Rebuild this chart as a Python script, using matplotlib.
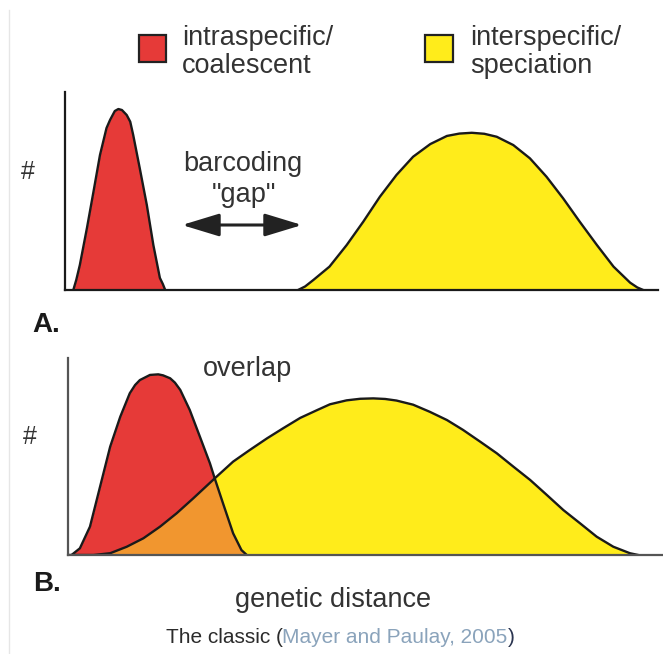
import matplotlib
matplotlib.use("Agg")
import matplotlib.pyplot as plt
from matplotlib.patches import Rectangle, FancyArrowPatch
from matplotlib.lines import Line2D

plt.rcParams['font.family'] = ['Liberation Sans', 'DejaVu Sans']

# ---------------- data ----------------
# Panel A: genetic distance (0-100 across axis), count (0-100 up axis)
intra_a_x = [1.4, 1.9, 2.5, 3.7, 4.8, 5.9, 7.0, 7.6, 8.4, 9.0, 9.6, 10.4, 11.0, 11.5, 12.6,
             13.8, 14.9, 16.0, 16.5, 16.9]
intra_a_y = [0, 5.1, 12.6, 31.3, 49.6, 68.2, 81.8, 85.9, 90.4, 91.4, 90.9, 88.4, 85.0, 78.3, 61.6,
             42.9, 22.7, 6.1, 3.0, 0]

inter_a_x = [39.3, 40.5, 41.9, 44.6, 47.5, 50.3, 53.1, 55.9, 58.7, 61.6, 64.4, 66.5, 68.6, 70.7,
             72.8, 75.6, 78.4, 81.2, 84.0, 86.8, 89.7, 92.5, 95.3, 96.5, 97.5]
inter_a_y = [0, 1.8, 5.1, 11.8, 22.7, 34.5, 47.1, 58.1, 67.3, 73.7, 77.8, 79.0, 79.4, 78.9,
             77.4, 73.2, 66.5, 57.2, 46.3, 34.5, 22.7, 11.8, 3.7, 1.3, 0]

# Panel B
intra_b_x = [0.6, 2.0, 3.7, 5.4, 7.1, 8.8, 10.4, 11.3, 12.1, 13.8, 15.2, 16.0, 17.2, 18.0, 18.9,
             20.5, 22.2, 23.9, 24.7, 26.1, 27.8, 29.2, 30.1]
intra_b_y = [0, 3.4, 14.4, 34.7, 55.0, 70.2, 82.1, 86.3, 88.8, 91.4, 91.7, 91.2, 89.7, 87.5, 83.8,
             73.6, 60.1, 46.5, 38.9, 26.2, 11.0, 2.5, 0]

inter_b_x = [0, 4.3, 7.1, 9.9, 12.7, 15.5, 18.3, 21.1, 24.7, 27.8, 30.6, 33.5, 36.2, 39.1,
             41.9, 44.1, 46.9, 49.2, 51.4, 53.4, 55.3, 58.1, 60.9, 63.8, 66.5, 69.4, 72.2,
             75.0, 77.8, 80.6, 83.4, 86.2, 89.0, 91.8, 94.6, 96.0]
inter_b_y = [0, 0, 0.9, 4.2, 8.5, 14.4, 21.2, 28.8, 38.9, 47.4, 53.3, 59.2, 64.3, 69.6,
             73.5, 76.5, 78.5, 79.3, 79.5, 79.2, 78.4, 76.3, 72.7, 68.5, 63.5, 57.5, 51.6,
             44.8, 38.1, 30.5, 22.8, 16.1, 9.3, 4.2, 0.9, 0]

legend_labels = ["intraspecific/", "coalescent", "interspecific/", "speciation"]
panel_labels = ["A.", "B."]
y_label = "#"
x_label = "genetic distance"
gap_label = ["barcoding", "\"gap\""]
overlap_label = "overlap"
caption_parts = ["The classic (", "Mayer and Paulay, 2005", ")"]

RED = "#e63a38"
YELLOW = "#ffec1b"
ORANGE = "#f1962f"
EDGE = "#1a1a1a"
TXT = "#333333"

W, H = 663, 654
fig = plt.figure(figsize=(W / 100, H / 100), dpi=100)
fig.patch.set_facecolor("white")


def fx(px):
    return px / W


def fy(py):
    return 1 - py / H


def make_axes(left, right, top, bottom, spine_color):
    ax = fig.add_axes([fx(left), fy(bottom), (right - left) / W, (bottom - top) / H])
    ax.set_xlim(0, 100)
    ax.set_ylim(0, 100)
    for s in ["top", "right"]:
        ax.spines[s].set_visible(False)
    for s in ["left", "bottom"]:
        ax.spines[s].set_color(spine_color)
        ax.spines[s].set_linewidth(1.6)
        ax.spines[s].set_zorder(6)
    ax.set_xticks([])
    ax.set_yticks([])
    ax.patch.set_alpha(0)
    return ax


LW = 1.7

# ---------------- panel A ----------------
axA = make_axes(65, 658, 92, 290, "#1a1a1a")
axA.fill_between(intra_a_x, intra_a_y, 0, color=RED, lw=0, zorder=2)
axA.fill_between(inter_a_x, inter_a_y, 0, color=YELLOW, lw=0, zorder=2)
axA.plot(intra_a_x, intra_a_y, color=EDGE, lw=LW, zorder=4, solid_joinstyle='round')
axA.plot(inter_a_x, inter_a_y, color=EDGE, lw=LW, zorder=4, solid_joinstyle='round')

# ---------------- panel B ----------------
axB = make_axes(68, 662, 358, 555, "#555555")
yb = axB.fill_between(inter_b_x, inter_b_y, 0, color=YELLOW, lw=0, zorder=2)
axB.fill_between(intra_b_x, intra_b_y, 0, color=RED, lw=0, zorder=2.5)
ov = axB.fill_between(intra_b_x, intra_b_y, 0, color=ORANGE, lw=0, zorder=3)
ov.set_clip_path(yb.get_paths()[0], axB.transData)
axB.plot(inter_b_x, inter_b_y, color=EDGE, lw=LW, zorder=4, solid_joinstyle='round')
axB.plot(intra_b_x, intra_b_y, color=EDGE, lw=LW, zorder=4, solid_joinstyle='round')

# ---------------- legend ----------------
for (l, r), col in [((139, 166), RED), ((425, 453), YELLOW)]:
    fig.add_artist(Rectangle((fx(l), fy(62)), (r - l) / W, 27 / H, transform=fig.transFigure,
                             facecolor=col, edgecolor="#222222", lw=1.6))
fs = 19.5
fig.text(fx(182), fy(45), legend_labels[0], fontsize=fs, color=TXT, va="baseline")
fig.text(fx(182), fy(73), legend_labels[1], fontsize=fs, color=TXT, va="baseline")
fig.text(fx(470), fy(45), legend_labels[2], fontsize=fs, color=TXT, va="baseline")
fig.text(fx(470), fy(73), legend_labels[3], fontsize=fs, color=TXT, va="baseline")

# ---------------- annotations ----------------
fig.text(fx(27.5), fy(171.5), y_label, fontsize=18, color=TXT, ha="center", va="center")
fig.text(fx(29.5), fy(437.5), y_label, fontsize=18, color=TXT, ha="center", va="center")
fig.text(fx(242.5), fy(171), gap_label[0], fontsize=fs, color=TXT, ha="center", va="baseline")
fig.text(fx(244), fy(202), gap_label[1], fontsize=fs, color=TXT, ha="center", va="baseline")
arrow = FancyArrowPatch((fx(182), fy(225)), (fx(302), fy(225)), transform=fig.transFigure,
                        arrowstyle="<|-|>,head_length=2.3,head_width=0.7", mutation_scale=10,
                        color="#222222", lw=2.2, shrinkA=0, shrinkB=0)
fig.add_artist(arrow)

fig.text(fx(32), fy(332), panel_labels[0], fontsize=20, fontweight="bold", color="#1a1a1a",
         va="baseline")
fig.text(fx(33), fy(591), panel_labels[1], fontsize=20, fontweight="bold", color="#1a1a1a",
         va="baseline")
fig.text(fx(203), fy(376), overlap_label, fontsize=fs, color=TXT, va="baseline")
fig.text(fx(332.6), fy(607), x_label, fontsize=fs, color=TXT, ha="center", va="baseline")

# caption, multi-coloured
cap_colors = ["#2b2b2b", "#8aa3bb", "#2b3550"]
renderer = fig.canvas.get_renderer()
x0 = 165.5
for part, col in zip(caption_parts, cap_colors):
    t = fig.text(fx(x0), fy(643), part, fontsize=15, color=col, va="baseline")
    bb = t.get_window_extent(renderer=renderer)
    x0 += bb.width

# faint left border
fig.add_artist(Line2D([fx(8.5), fx(8.5)], [fy(10), 0], transform=fig.transFigure,
                      color="#e6e6e6", lw=1))

fig.savefig("out.png", dpi=100, facecolor="white")
